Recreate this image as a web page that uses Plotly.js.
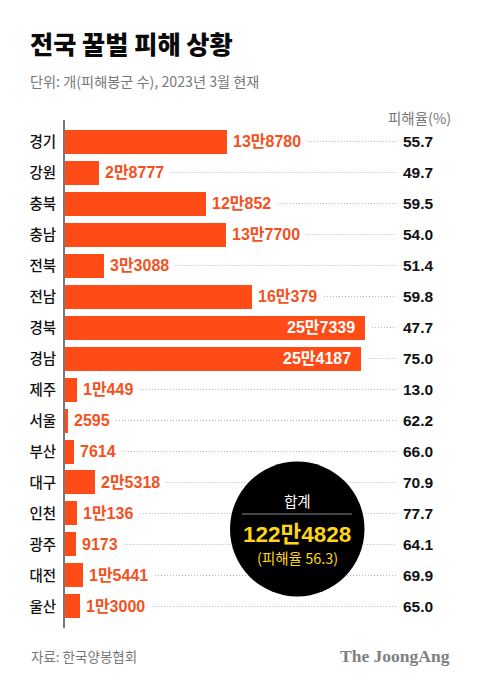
<!DOCTYPE html>
<html><head><meta charset="utf-8">
<script src="https://cdn.plot.ly/plotly-3.0.1.min.js"></script>
<style>html,body{margin:0;padding:0;background:#fff}</style></head>
<body><div id="c" style="width:480px;height:685px"></div>
<script>
const regions=["경기","강원","충북","충남","전북","전남","경북","경남","제주","서울","부산","대구","인천","광주","대전","울산"];
const damage=[138780,28777,120852,137700,33088,160379,257339,254187,10449,2595,7614,25318,10136,9173,15441,13000];
const damageLabels=["13만8780","2만8777","12만852","13만7700","3만3088","16만379","25만7339","25만4187","1만449","2595","7614","2만5318","1만136","9173","1만5441","1만3000"];
const rates=["55.7","49.7","59.5","54.0","51.4","59.8","47.7","75.0","13.0","62.2","66.0","70.9","77.7","64.1","69.9","65.0"];
const insideBar=["경북","경남"];
const W=480,H=685;
const FONT='"Liberation Sans","Noto Sans CJK KR",sans-serif';
const KR='"Noto Sans CJK KR",sans-serif';
const px=x=>x/W, py=y=>1-y/H;
const k=300/257339;
const xMax=415/k, leaderEnd=331/k;
const lx=[],ly=[];
regions.forEach((r,i)=>{
 const start=damage[i]+(insideBar.includes(r)?7/k:0);
 lx.push(start,leaderEnd,null);ly.push(r,r,null);
});
const traces=[
 {type:'scatter',mode:'lines',x:lx,y:ly,line:{color:'#b5b5b5',width:1,dash:'1px,2px'},hoverinfo:'skip',showlegend:false,cliponaxis:false},
 {type:'bar',orientation:'h',x:damage,y:regions,width:24/31,marker:{color:'#ff4c17',line:{width:0}},hoverinfo:'skip',showlegend:false}
];
const ann=[];
regions.forEach((r,i)=>{
 const inside=insideBar.includes(r);
 ann.push(inside?
  {xref:'x',yref:'y',x:damage[i],y:r,text:damageLabels[i],showarrow:false,xanchor:'right',yanchor:'middle',xshift:-6,
   borderpad:3,font:{family:FONT,size:16,color:'#fff',weight:700}}:
  {xref:'x',yref:'y',x:damage[i],y:r,text:damageLabels[i],showarrow:false,xanchor:'left',yanchor:'middle',
   bgcolor:'#fff',borderpad:5,font:{family:FONT,size:16,color:'#f4511e',weight:700}});
 ann.push({xref:'paper',yref:'y',x:px(418),y:r,text:rates[i],showarrow:false,xanchor:'center',yanchor:'middle',
  font:{family:FONT,size:15.5,color:'#111',weight:700}});
});
const t=(x,y,text,size,color,anchor,weight,family)=>({xref:'paper',yref:'paper',x:px(x),y:py(y),text,showarrow:false,xanchor:anchor||'left',yanchor:'middle',borderpad:0,borderwidth:0,
 font:{family:family||KR,size,color,weight:weight||400}});
ann.push(t(30,43,'전국 꿀벌 피해 상황',25.2,'#0a0a0a','left',900));
ann.push(t(30,81,'단위: 개(피해봉군 수), 2023년 3월 현재',14.2,'#777','left',400));
ann.push(t(451,117,'피해율(%)',14.5,'#777','right',400));
ann.push(t(31,656,'자료: 한국양봉협회',13.5,'#777','left',400));
ann.push(t(450,656,'The JoongAng',17.5,'#808080','right',700,'"Liberation Serif",serif'));
ann.push(t(297,500,'합계',14.5,'#fff','center',400));
ann.push(t(297,534,'122만4828',22.5,'#ffd514','center',700,FONT));
ann.push(t(297,557,'(피해율 56.3)',14.5,'#ffd514','center',400));
const layout={width:W,height:H,margin:{l:0,r:0,t:0,b:0},paper_bgcolor:'#fff',plot_bgcolor:'#fff',showlegend:false,bargap:0,
 xaxis:{domain:[px(65),1],range:[0,xMax],showgrid:false,zeroline:false,showline:false,showticklabels:false,ticks:''},
 yaxis:{domain:[py(628),py(120)],type:'category',categoryorder:'array',categoryarray:regions,range:[15.694,-0.694],showgrid:false,zeroline:false,
  showline:true,linecolor:'#777',linewidth:2,ticks:'outside',ticklen:4,tickcolor:'rgba(0,0,0,0)',tickfont:{family:KR,size:14.5,color:'#111',weight:500}},
 shapes:[
  {type:'circle',xref:'paper',yref:'paper',x0:px(230),x1:px(364.5),y0:py(596.5),y1:py(461.5),fillcolor:'#000',line:{width:0},layer:'above'},
  {type:'line',xref:'paper',yref:'paper',x0:px(242),x1:px(352),y0:py(514),y1:py(514),line:{color:'#8a8a8a',width:1},layer:'above'}
 ],
 annotations:ann};
Plotly.newPlot('c',traces,layout,{staticPlot:true,displayModeBar:false});
</script></body></html>
